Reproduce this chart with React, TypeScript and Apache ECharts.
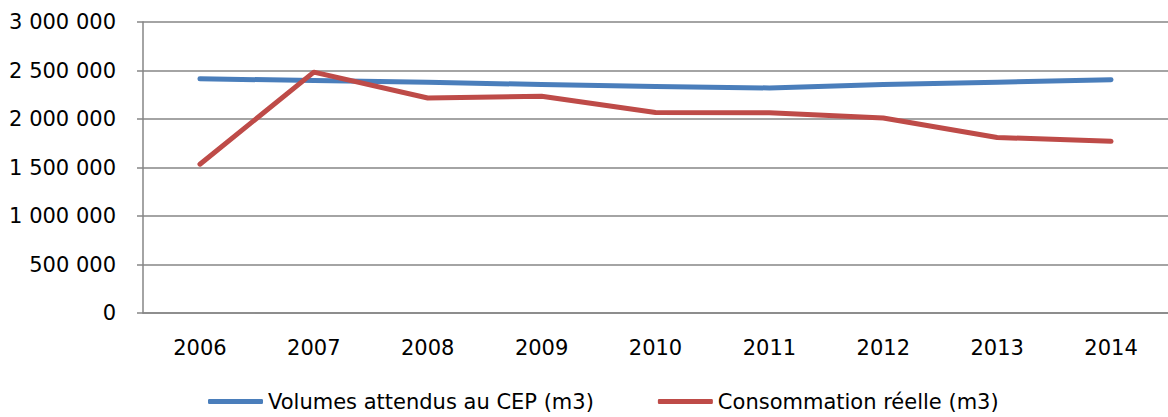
import React, { useEffect, useRef } from "react";
import * as echarts from "echarts";

const years = ["2006", "2007", "2008", "2009", "2010", "2011", "2012", "2013", "2014"];
const volumesAttendus = [2414000, 2397000, 2380000, 2355000, 2335000, 2320000, 2355000, 2380000, 2405000];
const consommationReelle = [1534000, 2483000, 2217000, 2234000, 2068000, 2065000, 2010000, 1810000, 1770000];
const seriesNames = ["Volumes attendus au CEP (m3)", "Consommation réelle (m3)"];

const fmt = (v: number) => String(v).replace(/\B(?=(\d{3})+(?!\d))/g, " ");

export default function App() {
  const ref = useRef<HTMLDivElement>(null);
  useEffect(() => {
    if (!ref.current) return;
    const chart = echarts.init(ref.current, null, { renderer: "svg" });
    const font = "DejaVu Sans";
    chart.setOption({
      animation: false,
      backgroundColor: "#ffffff",
      grid: { left: 143, right: 0, top: 22, bottom: 104, containLabel: false },
      legend: {
        left: 203,
        top: 386,
        itemWidth: 55,
        itemHeight: 5,
        itemGap: 64,
        icon: "roundRect",
        textStyle: { fontFamily: font, fontSize: 21, color: "#000" },
        data: seriesNames,
      },
      xAxis: {
        type: "category",
        data: years,
        boundaryGap: true,
        axisLine: { lineStyle: { color: "#868686", width: 1.5 } },
        axisTick: { show: false },
        axisLabel: { color: "#000", fontFamily: font, fontSize: 21, margin: 24 },
      },
      yAxis: {
        type: "value",
        min: 0,
        max: 3000000,
        interval: 500000,
        axisLine: { show: true, lineStyle: { color: "#868686", width: 1.5 } },
        axisTick: { show: true, length: 6, lineStyle: { color: "#868686", width: 1.5 } },
        splitLine: { lineStyle: { color: "#868686", width: 1.5 } },
        axisLabel: { color: "#000", fontFamily: font, fontSize: 21, margin: 27, formatter: (v: number) => fmt(v) },
      },
      series: [
        {
          name: seriesNames[0],
          type: "line",
          data: volumesAttendus,
          showSymbol: false,
          symbol: "none",
          itemStyle: { color: "#4A7EBB" },
          lineStyle: { color: "#4A7EBB", width: 5, cap: "round", join: "round" },
        },
        {
          name: seriesNames[1],
          type: "line",
          data: consommationReelle,
          showSymbol: false,
          symbol: "none",
          itemStyle: { color: "#BE4B48" },
          lineStyle: { color: "#BE4B48", width: 5, cap: "round", join: "round" },
        },
      ],
    });
    return () => chart.dispose();
  }, []);
  return (
    <div
      ref={ref}
      style={{ position: "fixed", left: 0, top: 0, width: 1168, height: 417, background: "#fff" }}
    />
  );
}
